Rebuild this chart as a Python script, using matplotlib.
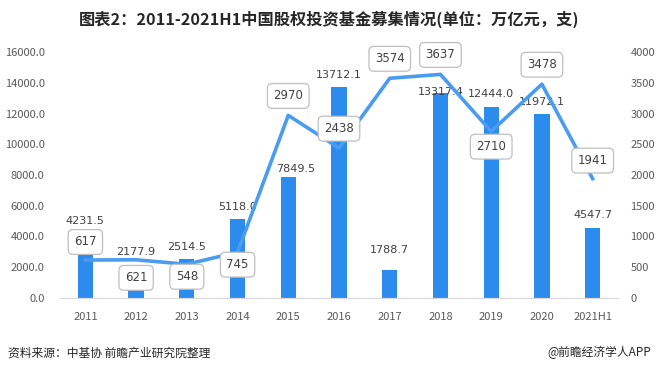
import matplotlib.pyplot as plt
import numpy as np

plt.rcParams["font.family"] = ["Noto Sans CJK SC", "DejaVu Sans"]

# data
YEARS = ["2011", "2012", "2013", "2014", "2015", "2016", "2017", "2018", "2019", "2020", "2021H1"]
AMOUNT = [4231.5, 2177.9, 2514.5, 5118.0, 7849.5, 13712.1, 1788.7, 13317.4, 12444.0, 11972.1, 4547.7]
FUNDS = [617, 621, 548, 745, 2970, 2438, 3574, 3637, 2710, 3478, 1941]
LEFT_TICKS = [0, 2000, 4000, 6000, 8000, 10000, 12000, 14000, 16000]
RIGHT_TICKS = [0, 500, 1000, 1500, 2000, 2500, 3000, 3500, 4000]

# label offsets in points (layout only)
BAR_LABEL_DX = [0, 0, 0, 0, 5, 0, 0, 0, 0, 0, 0]
BAR_LABEL_DY = [5, 5.5, 5, 5.5, 2.5, 5.5, 11.5, -3, 5.5, 5, 6]
LINE_LABEL_DY = [13, -13, -9, -9, 14, 14, 14, 14, -11, 14, 13]

BAR_BLUE = "#2B8CEE"
LINE_BLUE = "#4A9CF0"
TEXT = "#404040"
TICK = "#595959"

fig = plt.figure(figsize=(6.58, 3.72), dpi=100)
ax = fig.add_axes([0.0912, 0.199, 0.848, 0.661])
ax2 = ax.twinx()

x = np.arange(len(YEARS))
ax.bar(x, AMOUNT, width=0.3, color=BAR_BLUE, zorder=2)
ax.set_ylim(0, 16000)
ax.set_yticks(LEFT_TICKS)
ax.set_yticklabels([f"{v:.1f}" for v in LEFT_TICKS])
ax.set_xlim(-0.5, len(YEARS) - 0.5)
ax.set_xticks(x)
ax.set_xticklabels(YEARS)

for xi, v, dx, dy in zip(x, AMOUNT, BAR_LABEL_DX, BAR_LABEL_DY):
    ax.annotate(f"{v:.1f}", (xi, v), xytext=(dx, dy), textcoords="offset points",
                ha="center", va="bottom", fontsize=8, color=TEXT,
                family=["DejaVu Sans"], zorder=5)

ax2.plot(x, FUNDS, color=LINE_BLUE, linewidth=2.6, zorder=3)
ax2.set_ylim(0, 4000)
ax2.set_yticks(RIGHT_TICKS)

for xi, v, dy in zip(x, FUNDS, LINE_LABEL_DY):
    ax2.annotate(f"{v}", (xi, v), xytext=(0, dy), textcoords="offset points",
                 ha="center", va="center", fontsize=8.5, color=TEXT,
                 family=["DejaVu Sans"], zorder=6,
                 bbox=dict(boxstyle="round,pad=0.5,rounding_size=0.4",
                           fc="white", ec="#BFBFBF", lw=0.9))

for a in (ax, ax2):
    for side in ("top", "left", "right"):
        a.spines[side].set_visible(False)
    a.spines["bottom"].set_color("#D9D9D9")
    a.tick_params(length=0, labelsize=8, labelcolor=TICK)
ax.tick_params(axis="y", pad=11)
ax.tick_params(axis="x", pad=10)
ax2.tick_params(axis="y", pad=9)

fig.text(0.5, 0.948, "图表2：2011-2021H1中国股权投资基金募集情况(单位：万亿元，支)",
         ha="center", va="center", fontsize=11.7, fontweight="bold", color="#262626")
fig.text(0.012, 0.052, "资料来源：中基协 前瞻产业研究院整理",
         ha="left", va="center", fontsize=8.5, color="#262626")
fig.text(0.99, 0.052, "@前瞻经济学人APP",
         ha="right", va="center", fontsize=8.5, color="#262626")

fig.savefig("out.png", dpi=100)
